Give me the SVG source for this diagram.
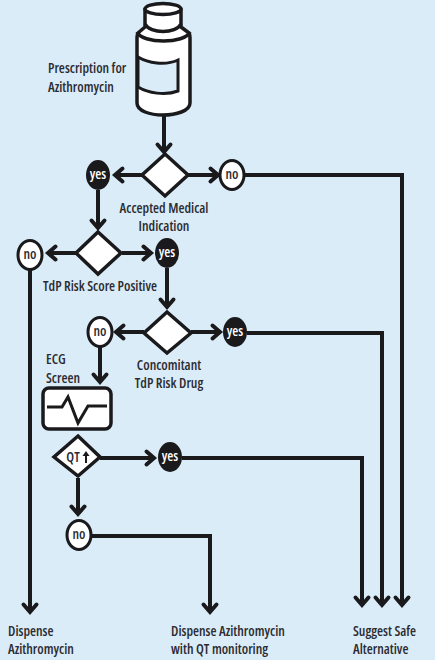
<svg xmlns="http://www.w3.org/2000/svg" width="435" height="660" viewBox="0 0 435 660">
<style>
.l{fill:none;stroke:#1a1a1c;stroke-width:4;stroke-linejoin:miter}
.o{fill:#fff;stroke:#1a1a1c;stroke-width:3.5;stroke-linejoin:round}
.d{fill:#fff;stroke:#1a1a1c;stroke-width:3.5;stroke-linejoin:miter}
.k{fill:#1a1a1c}
.w{fill:#fff;stroke:#1a1a1c;stroke-width:3}
text{font-family:"Open Sans","Liberation Sans",sans-serif;font-stretch:condensed;font-weight:600;font-size:13.8px;fill:#2b2b30}
.c{text-anchor:middle}
.y{fill:#fff}
</style>
<defs>
<marker id="a" markerUnits="userSpaceOnUse" markerWidth="20" markerHeight="20" refX="13" refY="10" orient="auto"><path d="M5.500 3.500L13 10L5.500 16.500" fill="none" stroke="#1a1a1c" stroke-width="4" stroke-linecap="round"/></marker>
</defs>
<rect width="435" height="660" fill="#daecf8"/>
<g id="connectors">
<path class="l" d="M164 116V152" marker-end="url(#a)"/>
<path class="l" d="M142 175H115" marker-end="url(#a)"/>
<path class="l" d="M188 175H218" marker-end="url(#a)"/>
<path class="l" d="M245 175H402V605" marker-end="url(#a)"/>
<path class="l" d="M98 190V228" marker-end="url(#a)"/>
<path class="l" d="M76 253H48" marker-end="url(#a)"/>
<path class="l" d="M122 253H151" marker-end="url(#a)"/>
<path class="l" d="M30 270V612" marker-end="url(#a)"/>
<path class="l" d="M167 268V307" marker-end="url(#a)"/>
<path class="l" d="M144 332H116" marker-end="url(#a)"/>
<path class="l" d="M191 332H220" marker-end="url(#a)"/>
<path class="l" d="M247 333H382V605" marker-end="url(#a)"/>
<path class="l" d="M100 346V382" marker-end="url(#a)"/>
<path class="l" d="M100 458H154" marker-end="url(#a)"/>
<path class="l" d="M182 458H362V605" marker-end="url(#a)"/>
<path class="l" d="M78 478V514" marker-end="url(#a)"/>
<path class="l" d="M92 536H210V612" marker-end="url(#a)"/>
</g>
<g id="bottle">
<path class="o" d="M145 9V27L138 33Q137 35 137 38V103C137 111 150 115 163 115C176 115 190 111 190 103V38Q190 35 189 33L181 27V9Z"/>
<ellipse class="o" cx="163" cy="9" rx="18" ry="5.500"/>
<path class="l" d="M145 24C150 34 176 34 181 24" style="stroke-width:3.500"/>
<path class="l" d="M137 32C142 44 185 44 190 32" style="stroke-width:3.500"/>
<path d="M138 57C148 63 165 66 178 60V91C165 96 148 93 138 87Z" fill="#daecf8" stroke="#1a1a1c" stroke-width="3"/>
</g>
<g id="d1"><path class="d" d="M165 154L188 175L165 196L142 175Z"/></g>
<g id="d2"><path class="d" d="M98 232L121 253L98 274L76 253Z"/></g>
<g id="d3"><path class="d" d="M167 312L191 333L167 353L144 333Z"/></g>
<g id="d4"><path class="d" d="M78 436L100 457L78 476L54 457Z"/><text class="c" x="73" y="462">QT</text><path d="M86 463V453" stroke="#1a1a1c" stroke-width="2" fill="none"/><path d="M82.500 456L86 451L89.500 456Z" fill="#1a1a1c"/></g>
<g id="yes1"><ellipse class="k" cx="98" cy="175" rx="12" ry="15"/><text class="c y" x="98" y="179">yes</text></g>
<g id="no1"><ellipse class="w" cx="232" cy="175" rx="12" ry="14.500"/><text class="c" x="232" y="179">no</text></g>
<g id="no2"><ellipse class="w" cx="30" cy="255" rx="12" ry="14.500"/><text class="c" x="30" y="259">no</text></g>
<g id="yes2"><ellipse class="k" cx="167" cy="253" rx="12" ry="15"/><text class="c y" x="167" y="257">yes</text></g>
<g id="no3"><ellipse class="w" cx="100" cy="332" rx="12" ry="14.500"/><text class="c" x="100" y="336">no</text></g>
<g id="yes3"><ellipse class="k" cx="235" cy="332" rx="12" ry="15"/><text class="c y" x="235" y="336">yes</text></g>
<g id="yes4"><ellipse class="k" cx="170" cy="457" rx="12" ry="15"/><text class="c y" x="170" y="461">yes</text></g>
<g id="no4"><ellipse class="w" cx="79" cy="535" rx="12" ry="14.500"/><text class="c" x="79" y="539">no</text></g>
<g id="ecg">
<rect x="43" y="388" width="68" height="41" rx="6" class="o"/>
<path d="M47 407H62L68 397L78 423L88 406H107" fill="none" stroke="#1a1a1c" stroke-width="3"/>
</g>
<g id="labels">
<text x="48" y="73">Prescription for</text>
<text x="48" y="92">Azithromycin</text>
<text class="c" x="164" y="213">Accepted Medical</text>
<text class="c" x="164" y="231">Indication</text>
<text x="43" y="291">TdP Risk Score Positive</text>
<text class="c" x="169" y="370">Concomitant</text>
<text class="c" x="169" y="388">TdP Risk Drug</text>
<text x="46" y="364">ECG</text>
<text x="46" y="383">Screen</text>
<text x="8" y="636">Dispense</text>
<text x="8" y="654">Azithromycin</text>
<text x="171" y="636">Dispense Azithromycin</text>
<text x="171" y="654">with QT monitoring</text>
<text x="353" y="636">Suggest Safe</text>
<text x="353" y="654">Alternative</text>
</g>
</svg>
